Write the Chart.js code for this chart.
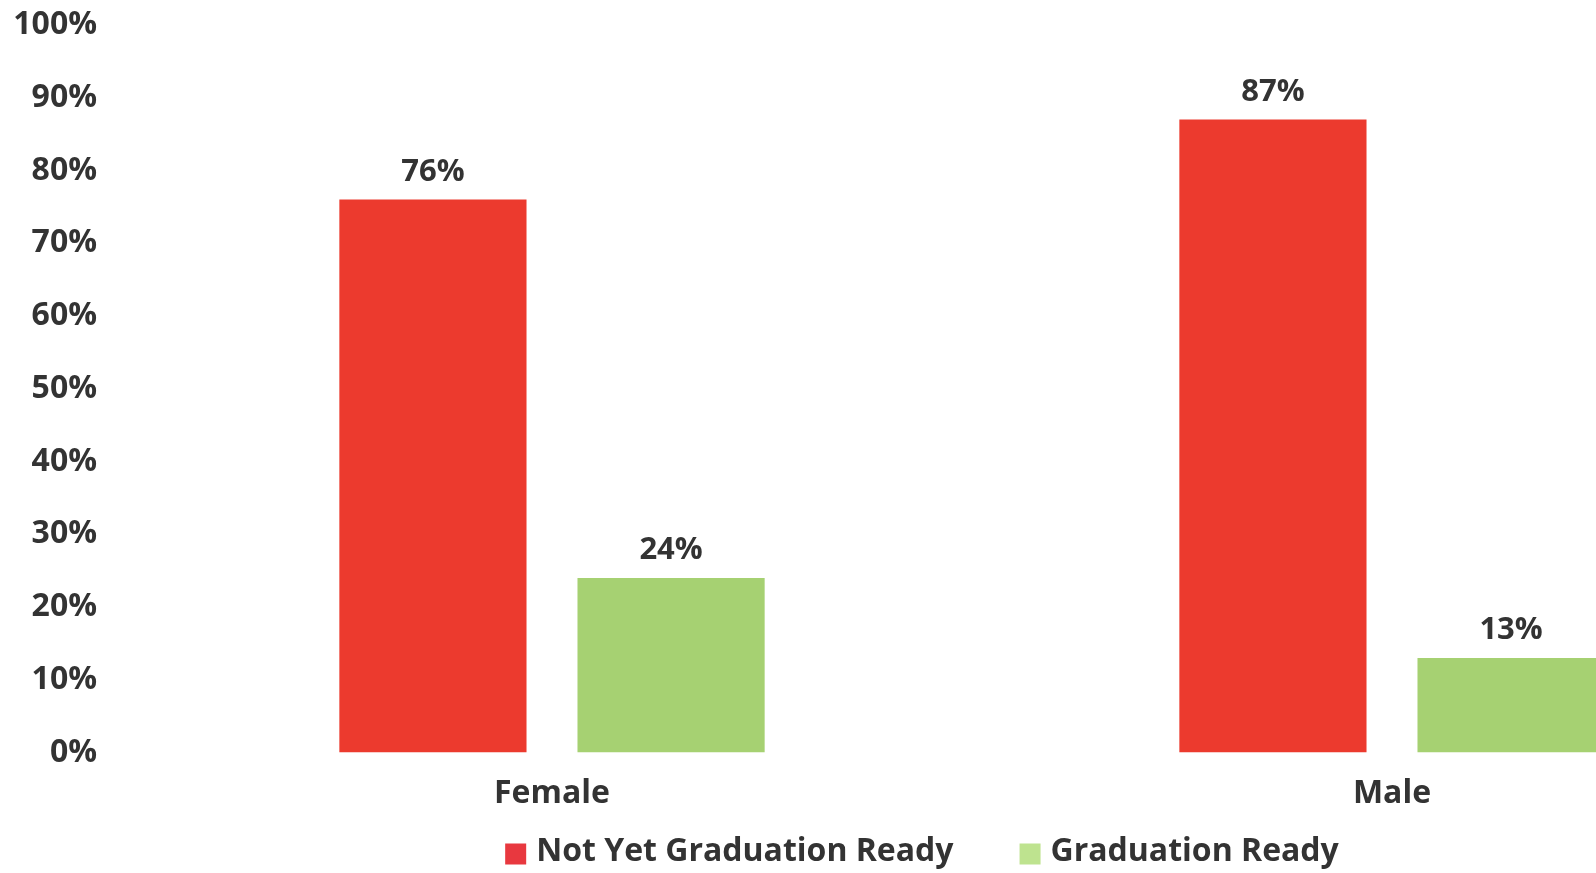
<!DOCTYPE html>
<html>
<head>
<meta charset="utf-8">
<script src="https://cdn.jsdelivr.net/npm/chart.js@4/dist/chart.umd.min.js"></script>
<style>
  html, body { margin: 0; padding: 0; background: #fff; overflow: hidden; }
  #wrap { width: 1844px; height: 873px; position: relative; }
</style>
</head>
<body>
<div id="wrap"><canvas id="grafico"></canvas></div>
<script>
// datos
const categorias = ['Female', 'Male'];
const noListos = [76, 87];     // Not Yet Graduation Ready
const listos = [24, 13];       // Graduation Ready
const ticksY = ['0%', '10%', '20%', '30%', '40%', '50%', '60%', '70%', '80%', '90%', '100%'];

const FUENTE = '"Open Sans", "Noto Sans", sans-serif';
const GRIS = '#333333';

// etiquetas de valor encima de cada barra
const etiquetas = {
  id: 'etiquetas',
  afterDatasetsDraw(chart) {
    const ctx = chart.ctx;
    ctx.save();
    ctx.font = 'bold 31px ' + FUENTE;
    ctx.fillStyle = GRIS;
    ctx.textAlign = 'center';
    ctx.textBaseline = 'bottom';
    chart.data.datasets.forEach((ds, i) => {
      chart.getDatasetMeta(i).data.forEach((barra, j) => {
        ctx.fillText(ds.data[j] + '%', barra.x, barra.y - 12);
      });
    });
    ctx.restore();
  }
};

// leyenda propia (mas separacion entre items que la del plugin)
const leyenda = {
  id: 'leyenda',
  afterDraw(chart) {
    const ctx = chart.ctx;
    ctx.save();
    ctx.font = 'bold 32px ' + FUENTE;
    const caja = 21, sep = 10, hueco = 66;
    const items = chart.data.datasets.map(ds => ({ texto: ds.label, color: ds.legendColor, w: ctx.measureText(ds.label).width }));
    let total = items.reduce((s, it) => s + caja + sep + it.w, 0) + hueco * (items.length - 1);
    let x = chart.width / 2 - total / 2;
    const y = 852;
    ctx.textBaseline = 'middle';
    items.forEach(it => {
      ctx.fillStyle = it.color;
      ctx.fillRect(x, y - caja / 2 + 2, caja, caja);
      ctx.fillStyle = GRIS;
      ctx.fillText(it.texto, x + caja + sep, y);
      x += caja + sep + it.w + hueco;
    });
    ctx.restore();
  }
};

const ctx = document.getElementById('grafico').getContext('2d');
new Chart(ctx, {
  type: 'bar',
  data: {
    labels: categorias,
    datasets: [{
      label: 'Not Yet Graduation Ready',
      data: noListos,
      backgroundColor: '#EC3A2E',
      legendColor: '#E8383F',
      categoryPercentage: 0.567,
      barPercentage: 0.786
    }, {
      label: 'Graduation Ready',
      data: listos,
      backgroundColor: '#A6D172',
      legendColor: '#BEE38F',
      categoryPercentage: 0.567,
      barPercentage: 0.786
    }]
  },
  options: {
    responsive: true,
    maintainAspectRatio: false,
    animation: false,
    layout: { padding: { top: 0, right: 32, bottom: 38, left: 0 } },
    plugins: {
      legend: { display: false },
      tooltip: { enabled: false }
    },
    scales: {
      x: {
        grid: { display: false, drawTicks: false },
        border: { display: false },
        ticks: { color: GRIS, font: { family: FUENTE, size: 32, weight: 'bold' }, padding: 22 }
      },
      y: {
        min: 0,
        max: 100,
        afterFit(escala) {
          // ancho fijo del eje y sin el margen extra arriba/abajo
          escala.width = 132;
          escala.paddingTop = 25;
          escala.paddingBottom = 0;
        },
        grid: { display: false, drawTicks: false },
        border: { display: false },
        ticks: {
          stepSize: 10,
          padding: 35,
          color: GRIS,
          font: { family: FUENTE, size: 32, weight: 'bold' },
          callback: (v) => ticksY[Math.round(v / 10)]
        }
      }
    }
  },
  plugins: [etiquetas, leyenda]
});
</script>
</body>
</html>
